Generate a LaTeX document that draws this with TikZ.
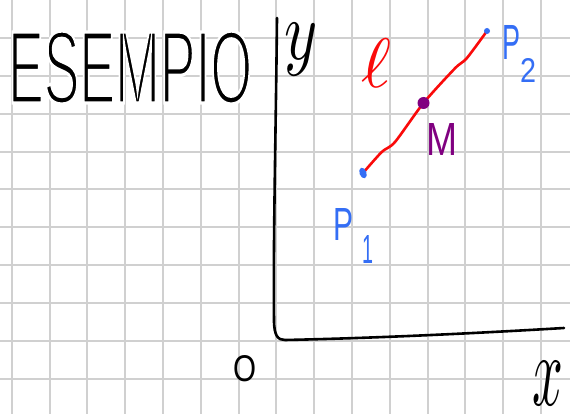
\documentclass[tikz,border=0pt]{standalone}
\usepackage{fontspec}
\usepackage{graphicx}
\setsansfont{Liberation Sans}
\definecolor{gridgray}{RGB}{208,208,208}
\definecolor{penred}{RGB}{250,10,10}
\definecolor{penblue}{RGB}{52,110,245}
\definecolor{penpurple}{RGB}{128,0,128}
\newcommand{\thintext}[2][0.4]{\special{pdf:literal direct 2 Tr 1 1 1 RG #1 w}#2\special{pdf:literal direct 0 Tr}}
\tikzset{
  gridline/.style={draw=gridgray, line width=2pt},
  axis/.style={draw=black, line width=2.6pt, line cap=round, line join=round},
  seg/.style={draw=penred, line width=2.6pt, line cap=round, line join=round},
  lbl/.style={inner sep=0pt, outer sep=0pt},
}
\begin{document}
\begin{tikzpicture}[x=1pt,y=-1pt]
\useasboundingbox (0,0) rectangle (570,414);
\fill[white] (0,0) rectangle (570,414);
% grid
\foreach \k in {0,...,14} {
  \draw[gridline] ({11.7+37.8*\k},0) -- ({11.7+37.8*\k},414);
}
\foreach \k in {0,...,9} {
  \draw[gridline] (0,{38.3+37.8*\k}) -- (570,{38.3+37.8*\k});
}
% title
\node[lbl, anchor=north west] (title) at (8,31) {\resizebox{244pt}{72pt}{\sffamily\thintext[0.32]{ESEMPIO}}};
% axes
\coordinate (ytop) at (277,18);
\coordinate (corner) at (285,340);
\coordinate (xend) at (564,328);
\draw[axis] (ytop) .. controls (276,120) and (273,250) .. (274,320)
  .. controls (274,336) and (278,340) .. (corner)
  .. controls (380,338) and (480,333) .. (xend);
\node[lbl] (ylab) at (301,50) {\scalebox{6.3}[8.4]{$y$}};
\node[lbl] (xlab) at (548,384) {\scalebox{5.4}[10.2]{$x$}};
\node[lbl, anchor=north west] (olab) at (233,355) {\resizebox{23pt}{26pt}{\sffamily O}};
% segment
\coordinate (P1) at (363,173);
\coordinate (M) at (423.5,103);
\coordinate (P2) at (487,31);
\draw[seg] plot[smooth, tension=0.45] coordinates {(P1) (381.7,152) (395,142) (M) (455,68.3) (466.7,58.3) (P2)};
\fill[penblue] (P1) ellipse[x radius=3.5pt, y radius=5.5pt, rotate=20];
\fill[penblue] (P2) circle[radius=3pt];
\fill[penpurple] (M) circle[radius=6pt];
% labels
\node[lbl, text=penred] (llab) at (376,63) {\scalebox{7.2}[7.0]{$\ell$}};
\node[lbl, text=penblue, anchor=north west] (p2lab) at (502,25) {\resizebox{18pt}{34pt}{\sffamily P}\raisebox{-23pt}{\resizebox{16pt}{24pt}{\sffamily 2}}};
\node[lbl, text=penpurple, anchor=north west] (mlab) at (426,123) {\resizebox{31pt}{32pt}{\sffamily M}};
\node[lbl, text=penblue, anchor=north west] (p1lab) at (333,208) {\resizebox{20pt}{32pt}{\sffamily P}\hspace{9pt}\raisebox{-23pt}{\resizebox{11pt}{28pt}{\sffamily 1}}};
\end{tikzpicture}
\end{document}
